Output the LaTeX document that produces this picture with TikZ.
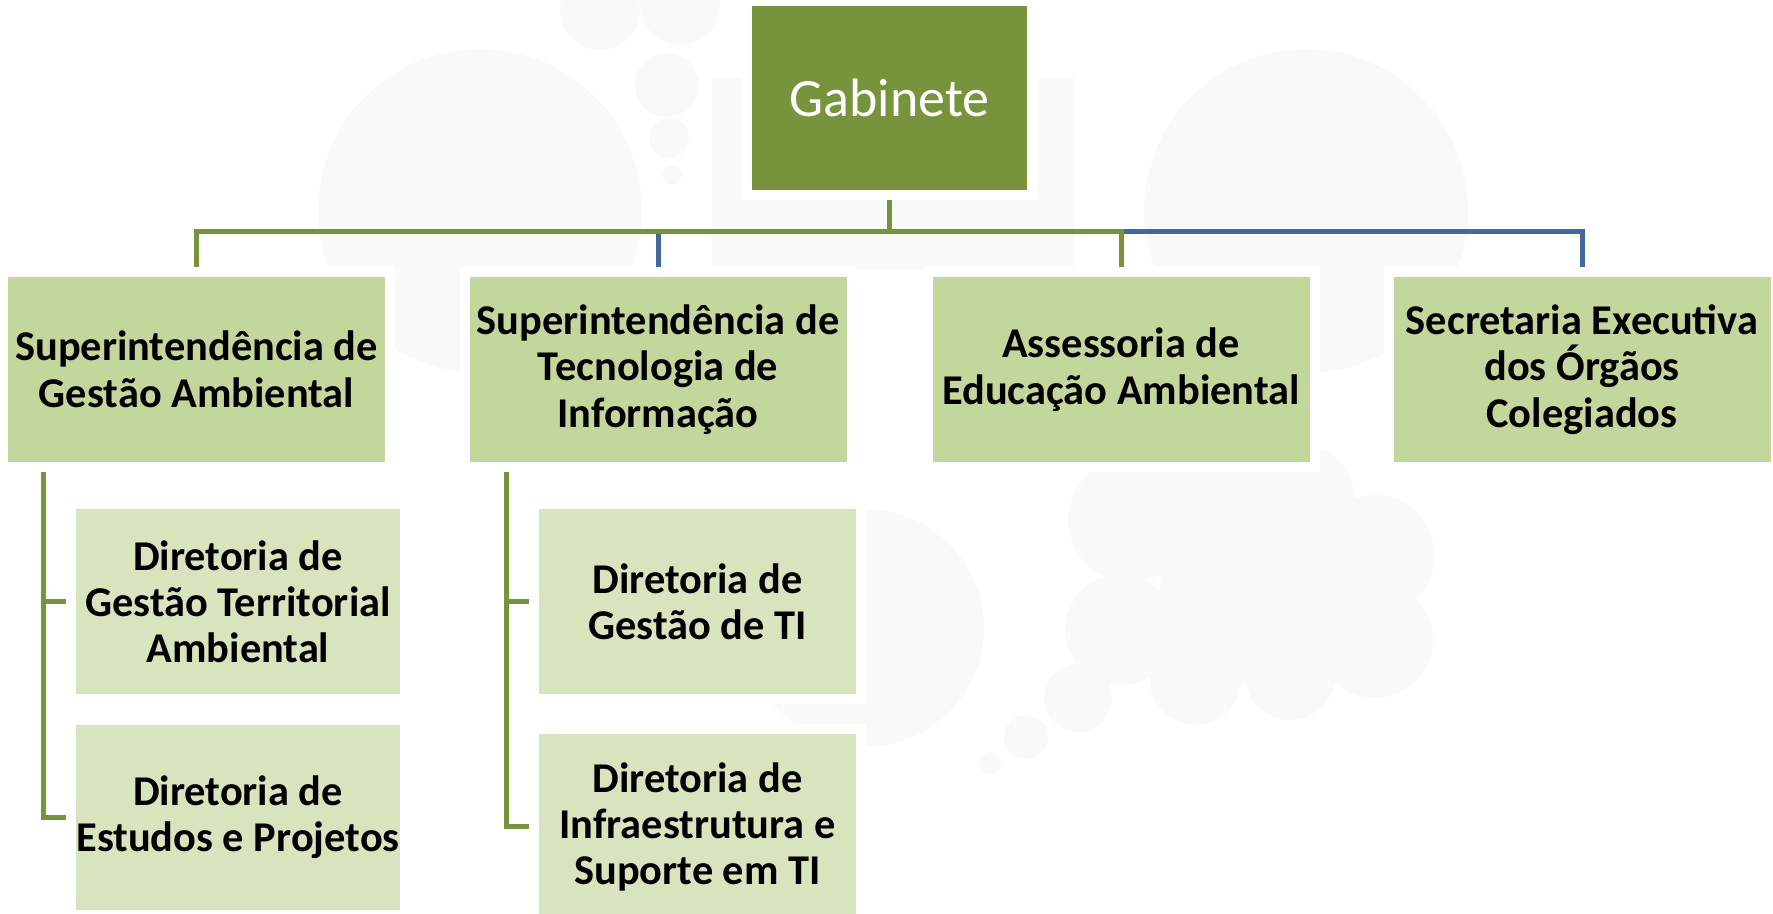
\documentclass[tikz,border=0pt]{standalone}
\usepackage{fontspec}
\setmainfont{Carlito}
\usetikzlibrary{backgrounds}

\definecolor{gabgreen}{HTML}{77933C}
\definecolor{supgreen}{HTML}{C3D69B}
\definecolor{dirgreen}{HTML}{D7E4BD}
\definecolor{lineblue}{HTML}{41699B}
\definecolor{wmgray}{HTML}{F9F9F9}

\begin{document}
\begin{tikzpicture}[x=0.5pt,y=-0.5pt]
    \tikzstyle{orgbox}=[rectangle, draw=white, line width=5pt, align=center, inner sep=0pt]
    \tikzstyle{gabbox}=[orgbox, fill=gabgreen, text=white, minimum width=142.5pt, minimum height=97pt, font=\fontsize{27}{32}\selectfont]
    \tikzstyle{supbox}=[orgbox, fill=supgreen, minimum width=193.5pt, minimum height=97.5pt, font=\bfseries\fontsize{21.2}{23.4}\selectfont]
    \tikzstyle{dirbox}=[orgbox, fill=dirgreen, minimum height=97.5pt, font=\bfseries\fontsize{21.2}{23}\selectfont]
    \tikzstyle{gline}=[draw=gabgreen, line width=2.5pt]
    \tikzstyle{bline}=[draw=lineblue, line width=2.5pt]
    \tikzstyle{mark bg}=[fill=wmgray]

    \useasboundingbox (0,0) rectangle (1773,914);

    \node[gabbox] (gab) at (889.5,98) {Gabinete};

    \node[supbox] (sup1) at (196.5,369.5) {Superintendência de\\Gestão Ambiental};
    \node[supbox] (sup2) at (658,369.5) {Superintendência de\\Tecnologia de\\Informação};
    \node[supbox] (sup3) at (1121,369.5) {Assessoria de\\Educação Ambiental};
    \node[supbox] (sup4) at (1582,369.5) {Secretaria Executiva\\dos Órgãos\\Colegiados};

    \node[dirbox, minimum width=167pt] (dir1) at (238,601.5) {Diretoria de\\Gestão Territorial\\Ambiental};
    \node[dirbox, minimum width=167pt] (dir2) at (238,817.5) {Diretoria de\\Estudos e Projetos};
    \node[dirbox, minimum width=163.5pt] (dir3) at (697.5,601.5) {Diretoria de\\Gestão de TI};
    \node[dirbox, minimum width=163.5pt] (dir4) at (697.5,826.5) {Diretoria de\\Infraestrutura e\\Suporte em TI};

    \coordinate (bus) at (0,232);
    \coordinate (fork1) at (43,467);
    \coordinate (fork2) at (506,467);

    \begin{pgfonlayer}{background}
        \fill[white] (0,0) rectangle (1773,914);
        % faint picture behind the chart
        \fill[mark bg] (480,211) circle (162);
        \fill[mark bg] (1306,211) circle (162);
        \fill[mark bg] (865,628) circle (119);
        \fill[mark bg] (712,77) rectangle (1075,270);
        \fill[mark bg] (600,10) circle (40) (680,5) circle (40);
        \fill[mark bg] (667,85) circle (32) (669,138) circle (20) (672,175) circle (10);
        \fill[mark bg] (1130,520) circle (62) (1210,505) circle (55) (1300,500) circle (55)
            (1375,555) circle (60) (1375,640) circle (58) (1290,675) circle (45)
            (1195,680) circle (45) (1120,630) circle (55) (1255,590) circle (95);
        \fill[mark bg] (1078,698) circle (34) (1026,737) circle (22) (990,763) circle (11);

        % connectors
        \draw[bline] (gab.south |- bus) -| (sup2.north);
        \draw[bline] (gab.south |- bus) -| (sup4.north);
        \draw[gline] (gab.south) -- (gab.south |- bus) -| (sup1.north);
        \draw[gline] (gab.south |- bus) -| (sup3.north);
        \draw[gline] (fork1) |- (dir1.west);
        \draw[gline] (fork1) |- (dir2.west);
        \draw[gline] (fork2) |- (dir3.west);
        \draw[gline] (fork2) |- (dir4.west);
    \end{pgfonlayer}
\end{tikzpicture}
\end{document}
